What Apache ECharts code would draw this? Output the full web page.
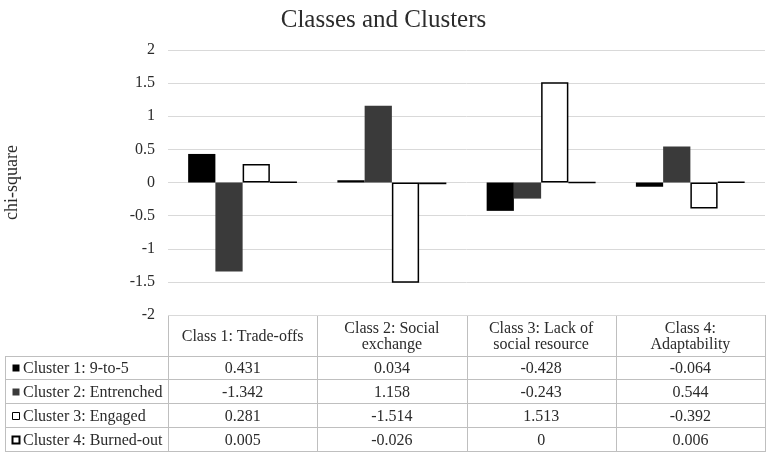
<!DOCTYPE html>
<html>
<head>
<meta charset="utf-8">
<script src="https://cdn.jsdelivr.net/npm/echarts@6/dist/echarts.min.js"></script>
<style>
    html, body { margin: 0; padding: 0; background: #fff; }
    #chart { width: 767px; height: 453px; }
</style>
</head>
<body>
<div id="chart"></div>
<script>
// data
const classes = ['Class 1: Trade-offs', 'Class 2: Social\nexchange', 'Class 3: Lack of\nsocial resource', 'Class 4:\nAdaptability'];
const clusters = ['Cluster 1: 9-to-5', 'Cluster 2: Entrenched', 'Cluster 3: Engaged', 'Cluster 4: Burned-out'];
const cluster1 = [0.431, 0.034, -0.428, -0.064];
const cluster2 = [-1.342, 1.158, -0.243, 0.544];
const cluster3 = [0.281, -1.514, 1.513, -0.392];
const cluster4 = [0.005, -0.026, 0, 0.006];
const yTicks = [-2, 2, 0.5];   // min, max, step

function chart() {
    let chart = echarts.init(document.getElementById('chart'));
    const font = '"Liberation Serif", "Times New Roman", serif';
    const txt = '#2b2b2b';

    // plot area
    const gl = 168, gr = 765, gt = 50, gb = 315;
    const colW = (gr - gl) / 4;
    const headBottom = 356, rowH = 24, tableLeft = 5;
    const lineColor = '#bfbfbf';

    const allSeries = [cluster1, cluster2, cluster3, cluster4];
    const swatch = [
        {fill: '#000', stroke: '#000', lw: 0},
        {fill: '#3a3a3a', stroke: '#3a3a3a', lw: 0},
        {fill: '#fff', stroke: '#000', lw: 1},
        {fill: '#fff', stroke: '#000', lw: 2}
    ];

    // data table under the plot
    let g = [];
    function hline(x1, x2, y) {
        g.push({type: 'line', silent: true, shape: {x1: x1, y1: y, x2: x2, y2: y}, style: {stroke: lineColor, lineWidth: 1}});
    }
    function vline(x, y1, y2) {
        g.push({type: 'line', silent: true, shape: {x1: x, y1: y1, x2: x, y2: y2}, style: {stroke: lineColor, lineWidth: 1}});
    }
    function text(s, x, y, align) {
        g.push({type: 'text', silent: true, x: x, y: y, style: {
            text: s, fill: txt, font: '16px ' + font, fontSize: 16, fontFamily: font,
            align: align || 'center', textAlign: align || 'center',
            verticalAlign: 'middle', textVerticalAlign: 'middle', lineHeight: 16
        }});
    }

    const tableBottom = headBottom + rowH * clusters.length;
    hline(gl, gr, gb + 0.5);
    hline(tableLeft, gr, headBottom + 0.5);
    for (let r = 1; r <= clusters.length; r++) hline(tableLeft, gr, headBottom + rowH * r - 0.5);
    vline(tableLeft + 0.5, headBottom, tableBottom);
    for (let c = 0; c <= classes.length; c++) vline(Math.round(gl + colW * c) + 0.5, gb, tableBottom);

    classes.forEach(function (name, c) {
        text(name, gl + colW * (c + 0.5), (gb + headBottom) / 2 + 1);
    });
    clusters.forEach(function (name, r) {
        let yc = headBottom + rowH * (r + 0.5);
        let s = swatch[r];
        g.push({type: 'rect', silent: true, shape: {x: 12.5, y: yc - 3.5, width: 7, height: 7},
            style: {fill: s.fill, stroke: s.stroke, lineWidth: s.lw}});
        text(name, 23, yc + 0.5, 'left');
        allSeries[r].forEach(function (v, c) {
            text(String(v), gl + colW * (c + 0.5), yc + 0.5);
        });
    });

    // axis title
    g.push({type: 'text', silent: true, x: 12, y: (gt + gb) / 2, rotation: Math.PI / 2, style: {
        text: 'chi-square', fill: txt, font: '18px ' + font, fontSize: 18, fontFamily: font,
        align: 'center', textAlign: 'center', verticalAlign: 'middle', textVerticalAlign: 'middle'
    }});

    option = {
        animation: false,
        title: {
            text: 'Classes and Clusters',
            left: 'center',
            top: 3,
            textStyle: {
                color: txt,
                fontFamily: font,
                fontWeight: 'normal',
                fontSize: 25
            }
        },
        grid: {
            left: gl,
            right: 767 - gr,
            top: gt,
            bottom: 453 - gb,
            containLabel: false
        },
        xAxis: {
            type: 'category',
            data: classes,
            axisLine: {show: false},
            axisTick: {show: false},
            axisLabel: {show: false},
            splitLine: {show: false}
        },
        yAxis: {
            type: 'value',
            min: yTicks[0],
            max: yTicks[1],
            interval: yTicks[2],
            axisLine: {show: false},
            axisTick: {show: false},
            axisLabel: {
                color: txt,
                fontFamily: font,
                fontSize: 16,
                margin: 13
            },
            splitLine: {
                lineStyle: {color: '#d9d9d9', width: 1}
            }
        },
        series: allSeries.map(function (d, i) {
            return {
                name: clusters[i],
                type: 'bar',
                data: d,
                barGap: '0%',
                barCategoryGap: '27%',
                itemStyle: {
                    color: swatch[i].fill,
                    borderColor: '#000',
                    borderWidth: i >= 2 ? 1.5 : 0
                }
            };
        }),
        graphic: g
    };

    chart.setOption(option);
}

new chart();
</script>
</body>
</html>
